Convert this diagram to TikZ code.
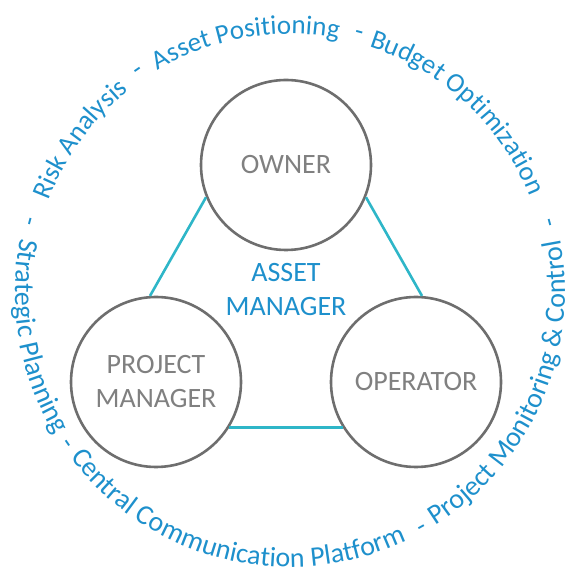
\documentclass[tikz,border=0pt]{standalone}
\usepackage{fontspec}
\setmainfont{Carlito}
\usetikzlibrary{decorations.text}
\definecolor{ringblue}{RGB}{30,144,204}
\definecolor{linkteal}{RGB}{46,182,200}
\definecolor{roleline}{RGB}{110,110,110}
\definecolor{roletext}{RGB}{128,128,128}

\begin{document}
\begin{tikzpicture}[x=1pt,y=1pt,
		role/.style={circle,draw=roleline,line width=2.6pt,fill=white,minimum size=170pt,
			inner sep=0pt,text=roletext,font=\fontsize{28}{34}\selectfont,align=center},
		link/.style={draw=linkteal,line width=2.6pt},
		ringtext/.style={decorate,decoration={text along path,text align=center,text={#1}}},
		ringdash/.style={text=ringblue,font=\fontsize{27}{27}\selectfont,inner sep=0pt}]
		\useasboundingbox (0,0) rectangle (565,570);
		\node[role] (owner) at (286,405) {OWNER};
		\node[role] (pm) at (156,188) {PROJECT\\MANAGER};
		\node[role] (op) at (416,188) {OPERATOR};
		\node[text=ringblue,font=\fontsize{28}{34}\selectfont,align=center] (am) at (286,280) {ASSET\\MANAGER};
		\draw[link] (owner.202) -- (pm.94);
		\draw[link] (owner.338) -- (op.86);
		\draw[link] (pm.328) -- (op.212);
		% upper half, read clockwise
		\coordinate (mid) at (290,278);
		\path[ringtext={|\fontsize{27}{27}\selectfont\color{ringblue}|Risk Analysis}]
			(mid) ++(184:258) arc[start angle=184,end angle=104,radius=258pt];
		\path[ringtext={|\fontsize{27}{27}\selectfont\color{ringblue}|Asset Positioning}]
			(mid) ++(140:258) arc[start angle=140,end angle=60,radius=258pt];
		\path[ringtext={|\fontsize{27}{27}\selectfont\color{ringblue}|Budget Optimization}]
			(mid) ++(87:258) arc[start angle=87,end angle=7,radius=258pt];
		% lower half, read anticlockwise
		\path[ringtext={|\fontsize{28}{28}\selectfont\color{ringblue}|Strategic Planning}]
			(mid) ++(145:275) arc[start angle=145,end angle=235,radius=275pt];
		\path[ringtext={|\fontsize{28}{28}\selectfont\color{ringblue}|Central Communication Platform}]
			(mid) ++(206:275) arc[start angle=206,end angle=306,radius=275pt];
		\path[ringtext={|\fontsize{28}{28}\selectfont\color{ringblue}|Project Monitoring {\&} Control}]
			(mid) ++(290:275) arc[start angle=290,end angle=383,radius=275pt];
		\foreach \a [count=\i] in {124.6,75.1,15,164.8,214.3,299.2}
			\node[ringdash,rotate=\a-90] (dash\i) at ([shift={(\a:266)}]mid) {-};
	\end{tikzpicture}
\end{document}
